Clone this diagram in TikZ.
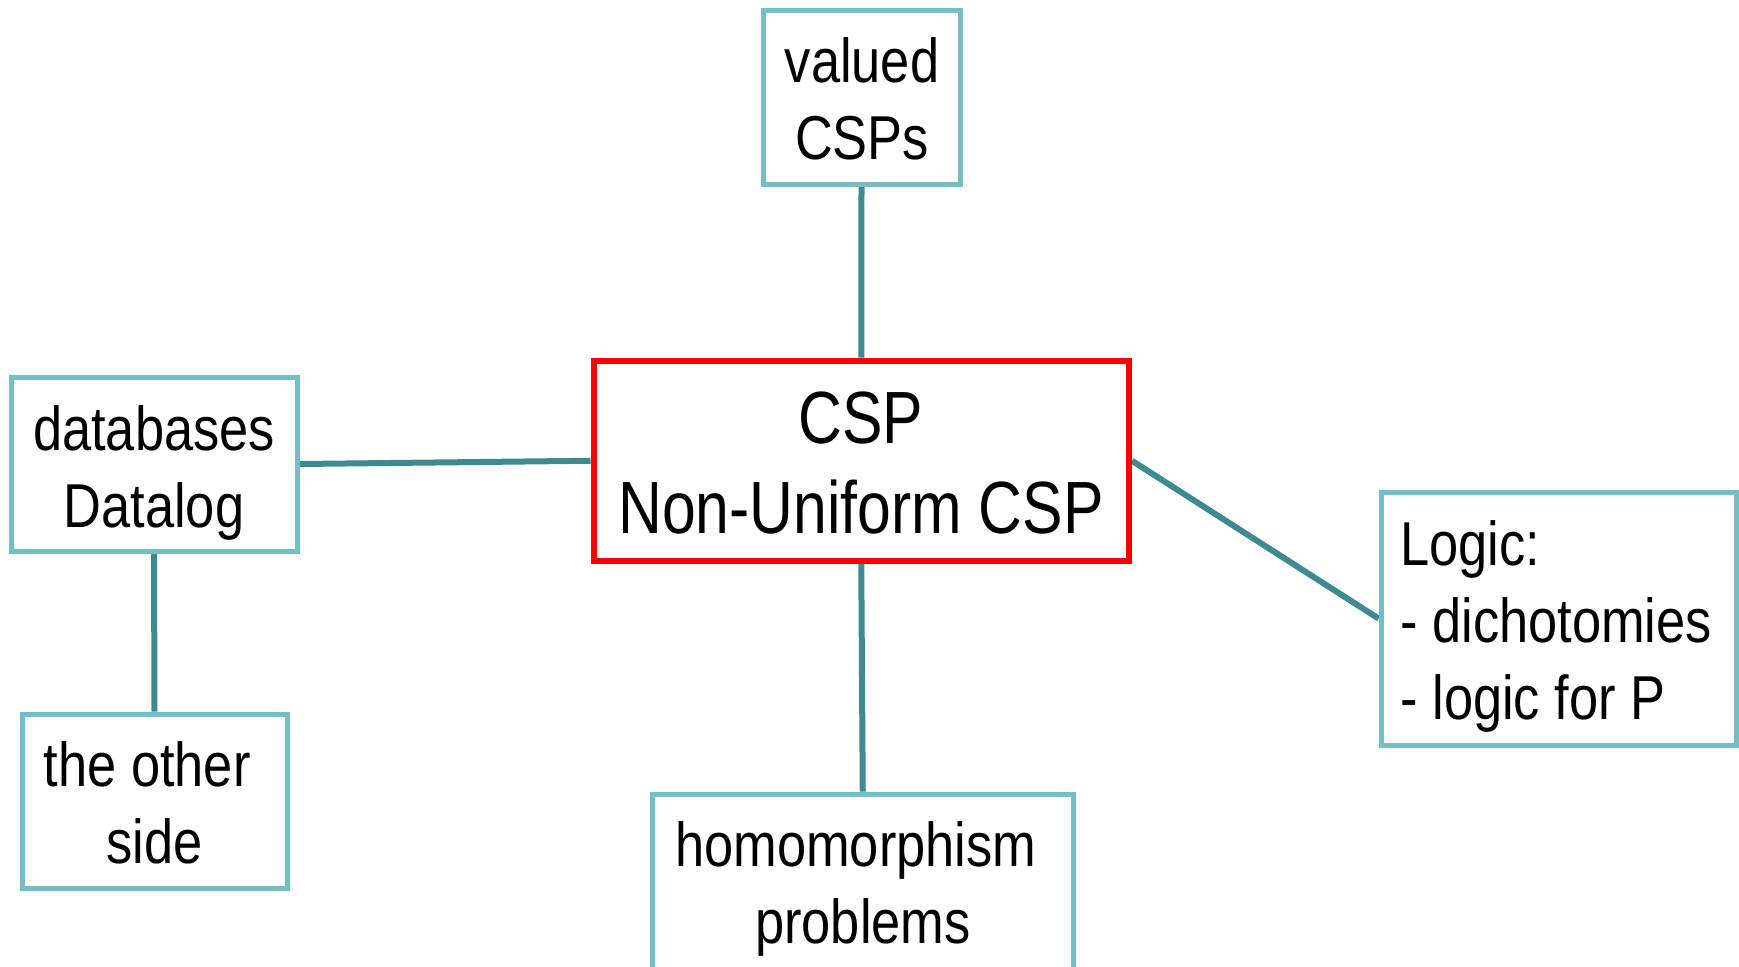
\documentclass[tikz,border=0pt]{standalone}
\usepackage{fontspec}
\setmainfont{Liberation Sans}[FakeStretch=0.82]
\newfontfamily\topicfont{Liberation Sans}[FakeStretch=0.845]
\definecolor{boxline}{RGB}{116,191,197}
\definecolor{linkline}{RGB}{61,138,145}
\definecolor{hubline}{RGB}{255,0,0}
\pgfdeclarelayer{links}
\pgfsetlayers{links,main}
\begin{document}
\begin{tikzpicture}[x=0.5pt,y=-0.5pt,
  topic/.style={draw=boxline, line width=2.5pt, fill=white, inner sep=0pt},
  hub/.style={draw=hubline, line width=3pt, fill=white, inner sep=0pt},
  link/.style={draw=linkline, line width=3pt},
  txt/.style={inner sep=0pt, anchor=base, align=center, font=\topicfont\fontsize{31}{38.5}\selectfont},
  hubtxt/.style={inner sep=0pt, anchor=base, align=center, font=\fontsize{37}{45}\selectfont}]
  \clip (0,0) rectangle (1739,966);

  % boxes
  \node[topic, minimum width=98.5pt,  minimum height=87pt]    (valued) at (861.5,97)   {};
  \node[hub,   minimum width=267.75pt, minimum height=100.25pt] (csp)  at (861.25,460.75) {};
  \node[topic, minimum width=143pt,   minimum height=87pt]    (db)     at (154,464)    {};
  \node[topic, minimum width=132.5pt, minimum height=87pt]    (other)  at (154.5,801)  {};
  \node[topic, minimum width=210.75pt, minimum height=103pt]  (homo)   at (862.75,897) {};
  \node[topic, minimum width=177.5pt, minimum height=126.5pt] (logic)  at (1558.5,618.5) {};

  % labels (anchored at the baseline of their last line)
  \node[txt] (valuedtxt) at (862,159) {valued\\CSPs};
  \node[hubtxt] (csptxt) at (861,533) {CSP\\Non-Uniform CSP};
  \node[txt] (dbtxt) at (154,527) {databases\\Datalog};
  \node[txt] (othertxt) at (154.5,863) {the other\ \mbox{}\\side};
  \node[txt] (homotxt) at (863,943) {homomorphism\ \mbox{}\\problems};
  \node[txt, anchor=base west, align=left] (logictxt) at (1400,719) {Logic:\\- dichotomies\\- logic for P};

  % connectors
  \begin{pgfonlayer}{links}
    \draw[link] (valued.south) -- (csp.north);
    \draw[link] (db.east) -- (csp.west);
    \draw[link] (db.south) -- (other.north);
    \draw[link] (csp.south) -- (homo.north);
    \draw[link] (csp.east) -- (logic.west);
  \end{pgfonlayer}
\end{tikzpicture}
\end{document}
